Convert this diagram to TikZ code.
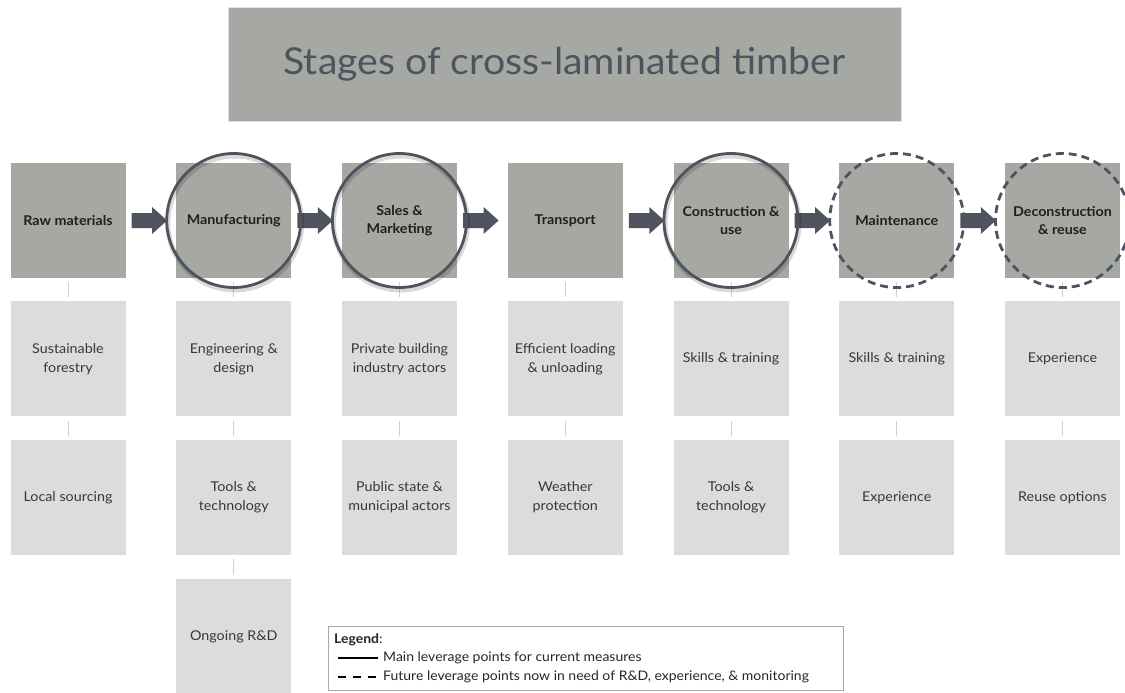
\documentclass[tikz,border=0pt]{standalone}
\usepackage{fontspec}
\setmainfont{Lato}[FakeStretch=1.06]
\usetikzlibrary{calc,positioning}

\definecolor{stagegrey}{HTML}{A6A8A4}
\definecolor{factorgrey}{HTML}{DCDCDC}
\definecolor{ink}{HTML}{4E535E}
\definecolor{linkgrey}{HTML}{D0D0D0}
\definecolor{legendgrey}{HTML}{A8A8A8}

\tikzset{
  stage/.style={fill=stagegrey, minimum width=115pt, minimum height=115pt,
    inner sep=2pt, align=center, text=black!88,
    font=\bfseries\fontsize{13.5}{18}\selectfont},
  factor/.style={fill=factorgrey, minimum width=115pt, minimum height=115pt,
    inner sep=2pt, align=center, text=black!78,
    font=\fontsize{13.5}{19}\selectfont},
  link/.style={draw=linkgrey, line width=1pt},
  lever/.style={draw=ink, line width=2.8pt},
  future/.style={lever, dash pattern=on 8pt off 5pt},
  halo/.style={draw=black, opacity=.15, line width=5pt},
  legtext/.style={anchor=west, inner sep=0pt, text=black!85,
    font=\fontsize{13.2}{15}\selectfont},
}

% block arrow between two stages
\newcommand{\flowarrow}[2]{%
  \fill[ink] ($(#1.east)+(6,-7.5)$) -- ($(#2.west)+(-24,-7.5)$)
    -- ($(#2.west)+(-24,-13.5)$) -- ($(#2.west)+(-9,0)$)
    -- ($(#2.west)+(-24,13.5)$) -- ($(#2.west)+(-24,7.5)$)
    -- ($(#1.east)+(6,7.5)$) -- cycle;}

\begin{document}
\begin{tikzpicture}[x=1pt,y=-1pt]
\useasboundingbox (0,0) rectangle (1125,693);

% title
\node[fill=stagegrey, draw=black!12, minimum width=673pt, minimum height=114pt,
  text=ink, font=\fontsize{37}{42}\selectfont] (title) at (564.5,64)
  {Stages of cross-laminated timber};

% stages
\foreach \name/\txt [count=\i from 0] in {raw/Raw materials, man/Manufacturing,
    sal/{Sales \&\\Marketing}, tra/Transport, con/{Construction \&\\use},
    mai/Maintenance, dec/{Deconstruction\\\& reuse}}
  \node[stage] (\name) at ({68+165.75*\i},220.5) {\txt};

% factors under each stage
\node[factor, below=23pt of raw] (raw1) {Sustainable\\forestry};
\node[factor, below=23pt of raw1] (raw2) {Local sourcing};
\node[factor, below=23pt of man] (man1) {Engineering \&\\design};
\node[factor, below=23pt of man1] (man2) {Tools \&\\technology};
\node[factor, below=24pt of man2] (man3) {Ongoing R\&D};
\node[factor, below=23pt of sal] (sal1) {Private building\\industry actors};
\node[factor, below=23pt of sal1] (sal2) {Public state \&\\municipal actors};
\node[factor, below=23pt of tra] (tra1) {Efficient loading\\\& unloading};
\node[factor, below=23pt of tra1] (tra2) {Weather\\protection};
\node[factor, below=23pt of con] (con1) {Skills \& training};
\node[factor, below=23pt of con1] (con2) {Tools \&\\technology};
\node[factor, below=23pt of mai] (mai1) {Skills \& training};
\node[factor, below=23pt of mai1] (mai2) {Experience};
\node[factor, below=23pt of dec] (dec1) {Experience};
\node[factor, below=23pt of dec1] (dec2) {Reuse options};

\foreach \a/\b in {raw/raw1, raw1/raw2, man/man1, man1/man2, man2/man3,
    sal/sal1, sal1/sal2, tra/tra1, tra1/tra2, con/con1, con1/con2,
    mai/mai1, mai1/mai2, dec/dec1, dec1/dec2}
  \draw[link] ([yshift=-4pt]\a.south) -- ([yshift=4pt]\b.north);

% flow
\foreach \a/\b in {raw/man, man/sal, sal/tra, tra/con, con/mai, mai/dec}
  \flowarrow{\a}{\b};

% leverage points
\foreach \s in {man, sal, con} {
  \draw[halo] ([shift={(1,2.5)}]\s.center) circle (67pt);
  \draw[lever] (\s.center) circle (67pt);
}
\foreach \s in {mai, dec}
  \draw[future] (\s.center) circle (67pt);

% legend
\node[draw=legendgrey, line width=1pt, minimum width=515pt, minimum height=64pt,
  inner sep=0pt, anchor=north west] (legend) at (328,626) {};
\node[legtext] (legtitle) at (334,640) {\textbf{Legend}:};
\coordinate (solid0) at (338,658);
\coordinate (solid1) at (378,658);
\coordinate (dash0) at (338,677);
\coordinate (dash1) at (378,677);
\draw[line width=2.2pt] (solid0) -- (solid1);
\draw[line width=2.2pt, dash pattern=on 8pt off 7pt] (dash0) -- (dash1);
\node[legtext, right=5pt of solid1] (legmain) {Main leverage points for current measures};
\node[legtext, right=5pt of dash1] (legfuture)
  {Future leverage points now in need of R\&D, experience, \& monitoring};
\end{tikzpicture}
\end{document}
